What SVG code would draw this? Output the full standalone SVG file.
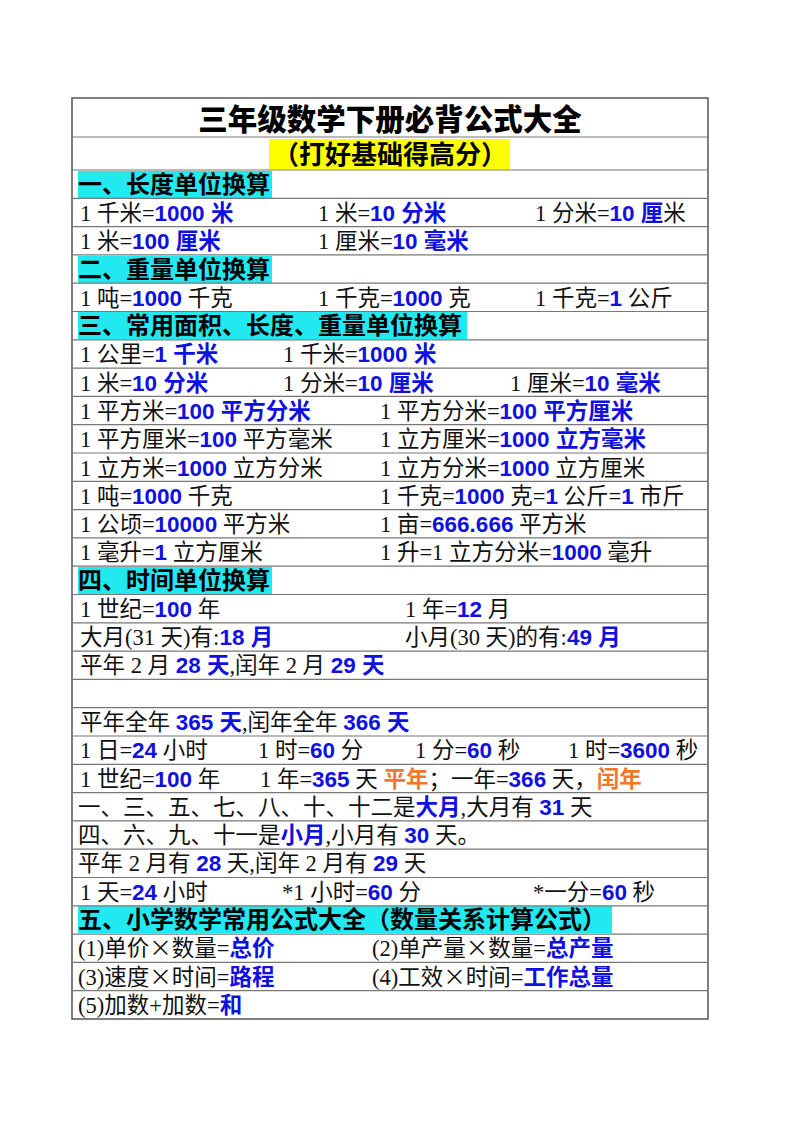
<svg xmlns="http://www.w3.org/2000/svg" width="800" height="1132" viewBox="0 0 800 1132">
<style>
text{font-family:"Liberation Serif","Noto Sans CJK SC",serif;font-size:22.5px;fill:#111}
.b{fill:#1010e0;font-weight:bold;font-family:"Liberation Sans","Noto Sans CJK SC",sans-serif}
.o{fill:#f07828;font-weight:bold;font-family:"Noto Sans CJK SC",sans-serif}
.h{font-weight:bold;font-family:"Noto Sans CJK SC",sans-serif;fill:#000;font-size:24px}
.x{font-family:"Noto Sans CJK SC",sans-serif}
.l{stroke:#777;stroke-width:1.2}
</style>
<rect x="72" y="98" width="636" height="921" fill="#fff" stroke="#555" stroke-width="1.5"/>
<g id="highlights">
<rect x="269" y="139" width="241" height="30" fill="#ffff00"/>
<rect x="78" y="171" width="194" height="27" fill="#22e8f0"/>
<rect x="78" y="256" width="194" height="27" fill="#22e8f0"/>
<rect x="78" y="312" width="389" height="27" fill="#22e8f0"/>
<rect x="78" y="567" width="194" height="27" fill="#22e8f0"/>
<rect x="78" y="906" width="534" height="27" fill="#22e8f0"/>
</g>
<g id="gridlines" class="l">
<line x1="72" y1="137" x2="708" y2="137"/>
<line x1="72" y1="170" x2="708" y2="170"/>
<line x1="72" y1="198.3" x2="708" y2="198.3"/><line x1="72" y1="226.6" x2="708" y2="226.6"/>
<line x1="72" y1="254.9" x2="708" y2="254.9"/><line x1="72" y1="283.2" x2="708" y2="283.2"/>
<line x1="72" y1="311.5" x2="708" y2="311.5"/><line x1="72" y1="339.8" x2="708" y2="339.8"/>
<line x1="72" y1="368.1" x2="708" y2="368.1"/><line x1="72" y1="396.4" x2="708" y2="396.4"/>
<line x1="72" y1="424.7" x2="708" y2="424.7"/><line x1="72" y1="453" x2="708" y2="453"/>
<line x1="72" y1="481.3" x2="708" y2="481.3"/><line x1="72" y1="509.6" x2="708" y2="509.6"/>
<line x1="72" y1="537.9" x2="708" y2="537.9"/><line x1="72" y1="566.2" x2="708" y2="566.2"/>
<line x1="72" y1="594.5" x2="708" y2="594.5"/><line x1="72" y1="622.8" x2="708" y2="622.8"/>
<line x1="72" y1="651.1" x2="708" y2="651.1"/><line x1="72" y1="679.4" x2="708" y2="679.4"/>
<line x1="72" y1="707.7" x2="708" y2="707.7"/><line x1="72" y1="736" x2="708" y2="736"/>
<line x1="72" y1="764.3" x2="708" y2="764.3"/><line x1="72" y1="792.6" x2="708" y2="792.6"/>
<line x1="72" y1="820.9" x2="708" y2="820.9"/><line x1="72" y1="849.2" x2="708" y2="849.2"/>
<line x1="72" y1="877.5" x2="708" y2="877.5"/><line x1="72" y1="905.8" x2="708" y2="905.8"/>
<line x1="72" y1="934.1" x2="708" y2="934.1"/><line x1="72" y1="962.4" x2="708" y2="962.4"/>
<line x1="72" y1="990.7" x2="708" y2="990.7"/>
</g>
<g id="texts">
<text x="390" y="130" text-anchor="middle" class="h" style="font-size:29.5px;font-weight:900">三年级数学下册必背公式大全</text>
<text x="390" y="164" text-anchor="middle" class="h" style="font-size:26px">（打好基础得高分）</text>
<text x="78" y="193" class="h">一、长度单位换算</text>
<text x="80" y="221">1 千米=<tspan class="b">1000 米</tspan></text>
<text x="318" y="221">1 米=<tspan class="b">10 分米</tspan></text>
<text x="535" y="221">1 分米=<tspan class="b">10 厘</tspan>米</text>
<text x="80" y="249">1 米=<tspan class="b">100 厘米</tspan></text>
<text x="318" y="249">1 厘米=<tspan class="b">10 毫米</tspan></text>
<text x="78" y="278" class="h">二、重量单位换算</text>
<text x="80" y="306">1 吨=<tspan class="b">1000</tspan> 千克</text>
<text x="318" y="306">1 千克=<tspan class="b">1000</tspan> 克</text>
<text x="535" y="306">1 千克=<tspan class="b">1</tspan> 公斤</text>
<text x="78" y="334" class="h">三、常用面积、长度、重量单位换算</text>
<text x="80" y="362">1 公里=<tspan class="b">1 千米</tspan></text>
<text x="283" y="362">1 千米=<tspan class="b">1000 米</tspan></text>
<text x="80" y="391">1 米=<tspan class="b">10 分米</tspan></text>
<text x="283" y="391">1 分米=<tspan class="b">10 厘米</tspan></text>
<text x="510" y="391">1 厘米=<tspan class="b">10 毫米</tspan></text>
<text x="80" y="419">1 平方米=<tspan class="b">100 平方分米</tspan></text>
<text x="380" y="419">1 平方分米=<tspan class="b">100 平方厘米</tspan></text>
<text x="80" y="447">1 平方厘米=<tspan class="b">100</tspan> 平方毫米</text>
<text x="380" y="447">1 立方厘米=<tspan class="b">1000 立方毫米</tspan></text>
<text x="80" y="476">1 立方米=<tspan class="b">1000</tspan> 立方分米</text>
<text x="380" y="476">1 立方分米=<tspan class="b">1000</tspan> 立方厘米</text>
<text x="80" y="504">1 吨=<tspan class="b">1000</tspan> 千克</text>
<text x="380" y="504">1 千克=<tspan class="b">1000</tspan> 克=<tspan class="b">1</tspan> 公斤=<tspan class="b">1</tspan> 市斤</text>
<text x="80" y="532">1 公顷=<tspan class="b">10000</tspan> 平方米</text>
<text x="380" y="532">1 亩=<tspan class="b">666.666</tspan> 平方米</text>
<text x="80" y="560">1 毫升=<tspan class="b">1</tspan> 立方厘米</text>
<text x="380" y="560">1 升=1 立方分米=<tspan class="b">1000</tspan> 毫升</text>
<text x="78" y="589" class="h">四、时间单位换算</text>
<text x="80" y="617">1 世纪=<tspan class="b">100</tspan> 年</text>
<text x="405" y="617">1 年=<tspan class="b">12</tspan> 月</text>
<text x="80" y="645">大月(31 天)有:<tspan class="b">18 月</tspan></text>
<text x="405" y="645">小月(30 天)的有:<tspan class="b">49 月</tspan></text>
<text x="80" y="673">平年 2 月 <tspan class="b">28 天</tspan>,闰年 2 月 <tspan class="b">29 天</tspan></text>
<text x="80" y="730">平年全年 <tspan class="b">365 天</tspan>,闰年全年 <tspan class="b">366 天</tspan></text>
<text x="80" y="758">1 日=<tspan class="b">24</tspan> 小时</text>
<text x="258" y="758">1 时=<tspan class="b">60</tspan> 分</text>
<text x="415" y="758">1 分=<tspan class="b">60</tspan> 秒</text>
<text x="568" y="758">1 时=<tspan class="b">3600</tspan> 秒</text>
<text x="80" y="787">1 世纪=<tspan class="b">100</tspan> 年</text>
<text x="260" y="787">1 年=<tspan class="b">365</tspan> 天 <tspan class="o">平年</tspan>；一年=<tspan class="b">366</tspan> 天，<tspan class="o">闰年</tspan></text>
<text x="78" y="815">一、三、五、七、八、十、十二是<tspan class="b">大月</tspan>,大月有 <tspan class="b">31</tspan> 天</text>
<text x="78" y="843">四、六、九、十一是<tspan class="b">小月</tspan>,小月有 <tspan class="b">30</tspan> 天。</text>
<text x="78" y="871">平年 2 月有 <tspan class="b">28</tspan> 天,闰年 2 月有 <tspan class="b">29</tspan> 天</text>
<text x="80" y="900">1 天=<tspan class="b">24</tspan> 小时</text>
<text x="282" y="900">*1 小时=<tspan class="b">60</tspan> 分</text>
<text x="533" y="900">*一分=<tspan class="b">60</tspan> 秒</text>
<text x="78" y="928" class="h">五、小学数学常用公式大全（数量关系计算公式）</text>
<text x="78" y="956">(1)单价<tspan class="x">×</tspan>数量=<tspan class="b">总价</tspan></text>
<text x="372" y="956">(2)单产量<tspan class="x">×</tspan>数量=<tspan class="b">总产量</tspan></text>
<text x="78" y="985">(3)速度<tspan class="x">×</tspan>时间=<tspan class="b">路程</tspan></text>
<text x="372" y="985">(4)工效<tspan class="x">×</tspan>时间=<tspan class="b">工作总量</tspan></text>
<text x="78" y="1013">(5)加数+加数=<tspan class="b">和</tspan></text>
</g>
</svg>
